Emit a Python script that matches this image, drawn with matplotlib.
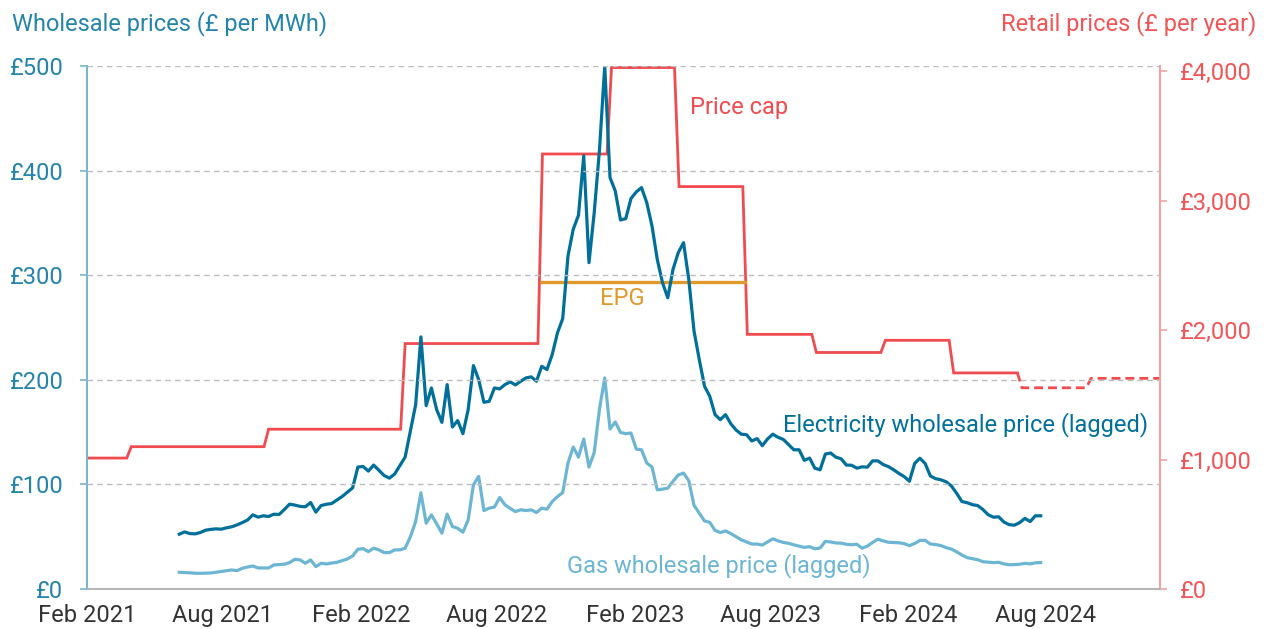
import matplotlib
matplotlib.use("Agg")
import matplotlib.pyplot as plt
import matplotlib.dates as mdates
import matplotlib.ticker as mticker
import pandas as pd

plt.rcParams['font.family'] = ['Roboto', 'DejaVu Sans']

# weekly wholesale prices (lagged), GBP per MWh
week_start = "2021-06-04"
elec_prices = [
    52.4, 54.6, 53, 52.7, 54, 56.2, 57, 57.5, 57.2, 58.5,
    59.5, 61.3, 63.5, 66, 70.9, 68.7, 70, 69.3, 71.5, 71.2,
    76, 81.1, 80.2, 79, 78.6, 82.7, 73.5, 79.8, 81, 81.7,
    85, 88.4, 92.5, 96.7, 116.6, 117.1, 112.7, 118.5, 113.5, 108.5,
    106, 109.9, 118, 126.1, 151, 176.2, 241, 175.3, 192.2, 171.5,
    159.3, 195.4, 154.9, 161, 148.5, 171.5, 213.6, 200.2, 178.5, 179.4,
    192.2, 191.3, 195.4, 198, 195.1, 198.6, 201.8, 202.8, 198.6, 212.9,
    209.8, 224.1, 244.9, 258.5, 318.3, 343.9, 357.3, 414.1, 312, 360,
    420, 500, 393.4, 380.6, 352.8, 354.1, 373.3, 379.6, 383.8, 369.4,
    347, 315.1, 292.8, 278.4, 305.6, 321.6, 331.1, 296, 246.5, 219.3,
    193.8, 184.2, 166.7, 161.9, 166.7, 158, 152, 148, 147.5, 141.5,
    143.8, 137, 143.5, 148, 145, 143, 138, 133.1, 133.1, 123,
    125.2, 115.5, 114, 129, 130, 126, 124.5, 118.5, 118.3, 115.5,
    116.8, 116.5, 122.5, 122.5, 119, 117, 114, 110.5, 107.5, 103,
    120, 125, 120, 108, 105.5, 104.4, 102.5, 98.5, 91.5, 83.6,
    82.5, 80.6, 79.8, 76, 71, 68.7, 69, 64, 61.5, 61,
    63.5, 67.5, 64.5, 70, 70,
]
gas_prices = [
    16, 15.8, 15.5, 15.1, 15, 15.2, 15.3, 16, 16.6, 17.4,
    18.2, 17.5, 19.8, 21, 22, 20.1, 20.1, 20.1, 23, 23.4,
    23.7, 25.2, 28.4, 27.8, 24.6, 27.8, 21.4, 24.6, 23.9, 24.8,
    25.5, 27.1, 28.7, 31.6, 38, 38.6, 35.7, 39, 37.4, 34.8,
    34.8, 37.4, 37.4, 39, 50, 64.5, 92, 62.9, 70.9, 62.3,
    53.4, 71.6, 59.7, 58.1, 54.3, 66.1, 99.6, 107.6, 75, 77.3,
    78.3, 87.5, 80.5, 77, 74, 75.7, 75, 75.7, 73.1, 77.3,
    76.3, 83.6, 88.4, 92.2, 120.4, 135.7, 126.1, 143.4, 116.6, 130.6,
    172.1, 201.8, 153, 159.7, 149.7, 148.5, 149.1, 133.8, 133.1, 120.4,
    116.6, 94.8, 95.5, 96.4, 103, 109, 110.8, 103.5, 80, 72.5,
    65, 63.7, 56, 54, 55.5, 53, 50, 47, 45, 43,
    43, 42, 45, 48, 46, 44.5, 43.7, 42.2, 41, 39.8,
    40.5, 38.4, 39.2, 45.5, 45, 44, 43.8, 42.8, 42.3, 42.8,
    39, 41, 44.5, 47.6, 46, 44.7, 44.5, 44.2, 43.4, 41.5,
    43.5, 46.5, 46.5, 43, 42.5, 41.5, 39.5, 38.2, 35.5, 32.5,
    30, 29, 28, 26.1, 25.7, 25.2, 25.5, 24, 23.2, 23.3,
    23.7, 24.5, 24, 25, 25.3,
]

# retail price cap (GBP per year), by cap period start; last three are projected
cap_dates = ["2021-02-01", "2021-04-01", "2021-10-01", "2022-04-01", "2022-10-01",
             "2023-01-01", "2023-04-01", "2023-07-01", "2023-10-01", "2024-01-01",
             "2024-04-01", "2024-07-01", "2024-10-01"]
cap_values = [1012, 1100, 1235, 1897, 3362, 4030, 3110, 1968, 1828, 1922, 1670, 1555, 1628]
cap_end = "2025-01-01"
projected_from = "2024-07-01"

epg_start, epg_end = "2022-10-01", "2023-06-28"
epg_value = 2370

xtick_months = [2, 8]

ELEC = "#00709b"
GAS = "#6cb6d4"
RED = "#f04b4f"
ORANGE = "#e09a2c"
LEFT_TXT = "#2584aa"
RIGHT_TXT = "#f05558"
FS = 17

weeks = pd.date_range(week_start, periods=len(elec_prices), freq="7D")

starts = pd.to_datetime(cap_dates)
ends = list(starts[1:] - pd.Timedelta(days=6)) + [pd.Timestamp(cap_end)]
cap_x, cap_y = [], []
for s, e, v in zip(starts, ends, cap_values):
    cap_x += [s, e]
    cap_y += [v, v]
n_actual = int((starts < pd.Timestamp(projected_from)).sum())

fig, ax = plt.subplots(figsize=(12.68, 6.29), dpi=100)
fig.subplots_adjust(left=87 / 1268, right=1160 / 1268, bottom=1 - 589 / 629, top=1 - 66 / 629)
ax2 = ax.twinx()
ax.set_zorder(ax2.get_zorder() + 1)
ax.patch.set_visible(False)

# retail side
ax2.plot(cap_x[:2 * n_actual], cap_y[:2 * n_actual], color=RED, lw=2.0, solid_joinstyle="miter")
ax2.plot(cap_x[2 * n_actual - 1:], cap_y[2 * n_actual - 1:], color=RED, lw=2.0, ls=(0, (3.2, 1.8)))
ax2.plot(pd.to_datetime([epg_start, epg_end]), [epg_value, epg_value], color=ORANGE, lw=2.4)

# wholesale side
ax.plot(weeks, gas_prices, color=GAS, lw=2.3)
ax.plot(weeks, elec_prices, color=ELEC, lw=2.3)

ax.set_xlim(pd.Timestamp(cap_dates[0]), pd.Timestamp(cap_end))
ax.set_ylim(0, 500)
ax2.set_ylim(0, 4042)

ax.xaxis.set_major_locator(mdates.MonthLocator(bymonth=xtick_months))
ax.xaxis.set_major_formatter(mdates.DateFormatter("%b %Y"))
ax.set_yticks(range(0, 501, 100))
ax.yaxis.set_major_formatter(mticker.FuncFormatter(lambda v, p: f"£{v:,.0f}"))
ax2.set_yticks(range(0, 4001, 1000))
ax2.yaxis.set_major_formatter(mticker.FuncFormatter(lambda v, p: f"£{v:,.0f}"))

ax.tick_params(axis="x", length=0, pad=11, labelsize=FS, labelcolor="#333333")
ax.tick_params(axis="y", length=5, width=1.2, color="#7ab6cc", pad=12, labelsize=FS, labelcolor=LEFT_TXT)
ax2.tick_params(axis="y", length=5, width=1.2, color="#f4a3a3", pad=9, labelsize=FS, labelcolor=RIGHT_TXT)

ax.yaxis.grid(True, color="#bdbdbd", lw=1, ls=(0, (4, 3)))
ax.set_axisbelow(False)

for side in ["top", "right"]:
    ax.spines[side].set_visible(False)
ax.spines["left"].set_color("#7ab6cc")
ax.spines["left"].set_linewidth(1.5)
ax.spines["bottom"].set_color("#b5b5b5")
ax.spines["bottom"].set_linewidth(1.5)
for side in ["top", "left", "bottom"]:
    ax2.spines[side].set_visible(False)
ax2.spines["right"].set_color("#f4a3a3")
ax2.spines["right"].set_linewidth(1.5)

fig.text(12 / 1268, 1 - 24 / 629, "Wholesale prices (£ per MWh)", color=LEFT_TXT, fontsize=FS, va="center")
fig.text(1256 / 1268, 1 - 24 / 629, "Retail prices (£ per year)", color=RIGHT_TXT, fontsize=FS, va="center", ha="right")

ax.text(0.562, 0.920, "Price cap", color=RED, fontsize=FS, va="center", transform=ax.transAxes)
ax.text(0.4986, 0.5545, "EPG", color=ORANGE, fontsize=FS, va="center", ha="center", transform=ax.transAxes)
ax.text(0.6487, 0.3136, "Electricity wholesale price (lagged)", color=ELEC, fontsize=FS, va="center",
        transform=ax.transAxes)
ax.text(0.4473, 0.044, "Gas wholesale price (lagged)", color=GAS, fontsize=FS, va="center",
        transform=ax.transAxes)

fig.savefig("out.png", dpi=100)
